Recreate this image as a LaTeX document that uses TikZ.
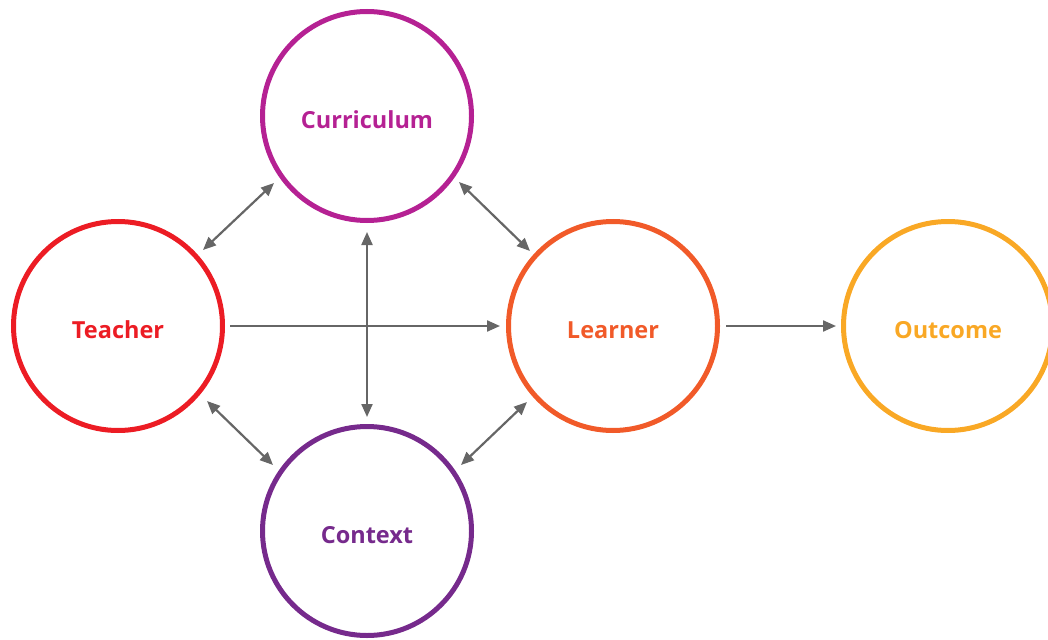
\documentclass[tikz,border=0pt]{standalone}
\usepackage{fontspec}
\setmainfont{Open Sans}
\usetikzlibrary{arrows.meta}
\definecolor{cCur}{HTML}{B52193}
\definecolor{cTea}{HTML}{EC1C24}
\definecolor{cLea}{HTML}{F15A29}
\definecolor{cOut}{HTML}{F9A825}
\definecolor{cCon}{HTML}{762A8C}
\definecolor{cArr}{HTML}{666666}
\tikzset{
  bubble/.style={circle, draw=#1, line width=5pt, minimum size=209pt, inner sep=0pt},
  lbl/.style={text=#1, font=\fontsize{23.5}{26}\selectfont\bfseries},
  conn/.style={draw=cArr, line width=2.2pt, -{Triangle[length=13pt,width=11pt]}},
  dconn/.style={draw=cArr, line width=2.2pt, {Triangle[length=13pt,width=11pt]}-{Triangle[length=13pt,width=11pt]}}
}
\begin{document}
\begin{tikzpicture}[x=1pt,y=-1pt]
\useasboundingbox (0,0) rectangle (1048,639);
\node[bubble=cCur] (cur) at (367,116) {};
\node[bubble=cTea] (tea) at (118,326) {};
\node[bubble=cLea] (lea) at (613,326) {};
\node[bubble=cOut] (out) at (948,326) {};
\node[bubble=cCon] (con) at (367,531) {};
\node[lbl=cCur] (curl) at (367,120) {Curriculum};
\node[lbl=cTea] (teal) at (118,330) {Teacher};
\node[lbl=cLea] (leal) at (613,330) {Learner};
\node[lbl=cOut] (outl) at (948,330) {Outcome};
\node[lbl=cCon] (conl) at (367,535) {Context};
\coordinate (c1) at (230,326);
\coordinate (c2) at (500,326);
\coordinate (c3) at (726,326);
\coordinate (c4) at (836,326);
\coordinate (v1) at (367,232);
\coordinate (v2) at (367,417);
\coordinate (d1) at (203,250);
\coordinate (d2) at (274,183);
\coordinate (d3) at (459,182);
\coordinate (d4) at (530,251);
\coordinate (d5) at (207,401);
\coordinate (d6) at (273,465);
\coordinate (d7) at (461,465);
\coordinate (d8) at (527,402);
\draw[conn] (c1) -- (c2);
\draw[conn] (c3) -- (c4);
\draw[dconn] (v1) -- (v2);
\draw[dconn] (d1) -- (d2);
\draw[dconn] (d3) -- (d4);
\draw[dconn] (d5) -- (d6);
\draw[dconn] (d7) -- (d8);
\end{tikzpicture}
\end{document}
